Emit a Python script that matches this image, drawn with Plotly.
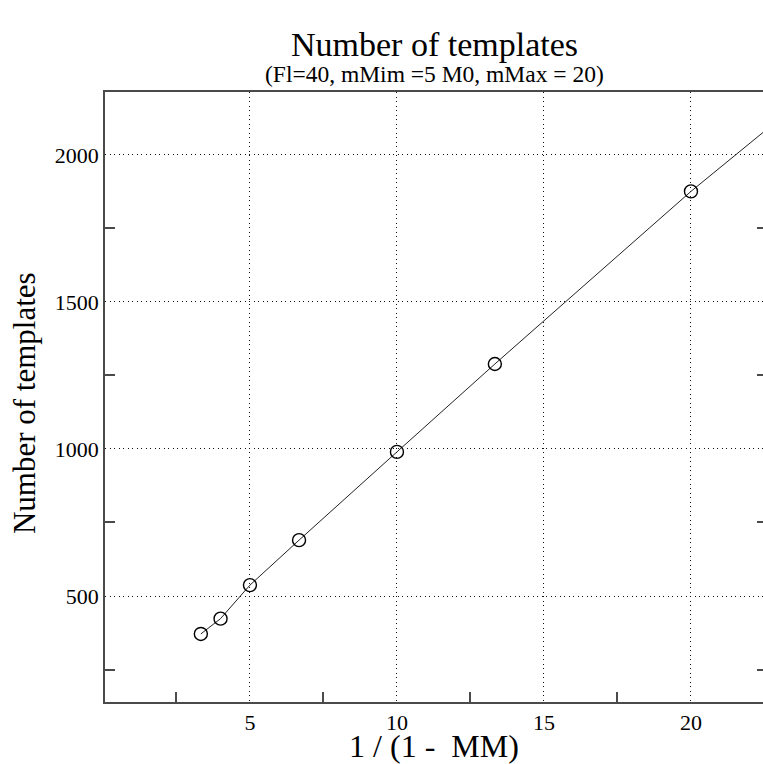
import plotly.graph_objects as go

# Data
inv_mm = [3.33, 4.0, 5.0, 6.67, 10.0, 13.33, 20.0]
n_templates = [371, 423, 537, 690, 990, 1289, 1876]
# line continues beyond the last marked point
line_x = [3.33, 4.0, 5.0, 6.67, 10.0, 13.33, 20.0, 25.0]
line_y = [371, 423, 537, 690, 990, 1289, 1876, 2285]

major_x = [5, 10, 15, 20]
minor_x = [2.5, 7.5, 12.5, 17.5, 22.5]
major_y = [500, 1000, 1500, 2000]
minor_y = [250, 750, 1250, 1750]

title_text = "Number of templates"
subtitle_text = "(Fl=40, mMim =5 M0, mMax = 20)"
x_title = "1 / (1 -  MM)"
y_title = "Number of templates"

font_family = "Liberation Serif, Times New Roman, serif"
axis_col = "#4a4a4a"

fig = go.Figure()
fig.add_trace(go.Scatter(x=line_x, y=line_y, mode="lines",
                         line=dict(color="#222222", width=1), hoverinfo="skip",
                         showlegend=False))
fig.add_trace(go.Scatter(x=inv_mm, y=n_templates, mode="markers",
                         marker=dict(symbol="circle-open", size=13,
                                     color="black", line=dict(width=1.4)),
                         showlegend=False))
# invisible trace to carry right-side ticks
fig.add_trace(go.Scatter(x=[inv_mm[0]], y=[n_templates[0]], yaxis="y2",
                         mode="markers", marker=dict(opacity=0), showlegend=False,
                         hoverinfo="skip"))

fig.update_layout(
    width=763, height=764,
    margin=dict(l=105, r=0, t=92, b=62),
    paper_bgcolor="white", plot_bgcolor="white",
    font=dict(family=font_family, color="black"),
    annotations=[
        dict(text=title_text, xref="paper", yref="paper", x=0.5, y=1.0775,
             xanchor="center", yanchor="middle", showarrow=False,
             font=dict(size=34, family=font_family, color="black")),
        dict(text=subtitle_text, xref="paper", yref="paper", x=0.5, y=1.030,
             xanchor="center", yanchor="middle", showarrow=False,
             font=dict(size=23.5, family=font_family, color="black")),
        dict(text=y_title, xref="paper", yref="paper", x=-0.1231, y=0.490,
             xanchor="center", yanchor="middle", showarrow=False, textangle=-90,
             font=dict(size=31, family=font_family, color="black")),
    ],
    xaxis=dict(
        range=[0.07, 22.45],
        tickvals=major_x, ticktext=[str(v) for v in major_x],
        ticks="", showgrid=True, gridcolor="#111111", griddash="1px,3.5px",
        gridwidth=1,
        showline=True, linecolor=axis_col, linewidth=1.5, mirror=True,
        zeroline=False,
        tickfont=dict(size=22, family=font_family),
        minor=dict(tickvals=minor_x, ticks="inside", ticklen=10,
                   tickcolor=axis_col, tickwidth=1.5, showgrid=False),
        title=dict(text=x_title, font=dict(size=32, family=font_family),
                   standoff=2),
    ),
    yaxis=dict(
        range=[139.5, 2214],
        tickvals=major_y, ticktext=[str(v) for v in major_y],
        ticks="", showgrid=True, gridcolor="#111111", griddash="1px,3.5px",
        gridwidth=1,
        showline=True, linecolor=axis_col, linewidth=1.5, mirror=False,
        zeroline=False,
        tickfont=dict(size=22, family=font_family),
        minor=dict(tickvals=minor_y, ticks="inside", ticklen=10,
                   tickcolor=axis_col, tickwidth=1.5, showgrid=False),
    ),
    yaxis2=dict(
        overlaying="y", side="right", matches="y", range=[139.5, 2214],
        showgrid=False, showline=False, zeroline=False, showticklabels=False,
        tickvals=minor_y, ticks="inside", ticklen=6, tickcolor=axis_col,
        tickwidth=1.5,
    ),
)

fig.write_html(
    "out.html",
    config={"displayModeBar": False},
    post_script="document.body.style.margin='0';document.body.style.overflow='hidden';",
)
